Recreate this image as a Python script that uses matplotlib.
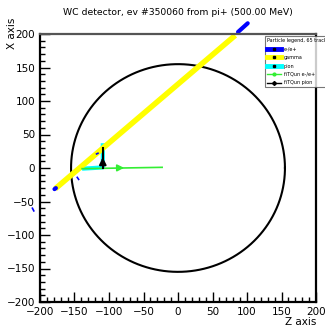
import numpy as np
import matplotlib
matplotlib.use("Agg")
import matplotlib.pyplot as plt
from matplotlib.lines import Line2D
from matplotlib.ticker import MultipleLocator

# detector outline (radius in cm)
radio = 155

# trazas: z (horizontal), x (vertical)
gamma_z = [-178, 83]
gamma_x = [-31, 198]
e_z = [-179, -177]
e_x = [-31.5, -30]
e2_z = [87, 101]
e2_x = [203, 216]
e3_z = [-211, -209]
e3_x = [-60, -64]
e4_z = [-118, -116]
e4_x = [21, 22]
e5_z = [-146, -144]
e5_x = [-14, -17]
pion_z = [-139, -122, -109, -109]
pion_x = [-1, 0, 1, 37]
fq_e_z = [-139, -23]
fq_e_x = [-1, 1]
fq_pi_z = [-109, -109]
fq_pi_x = [0, 30]

fig = plt.figure(figsize=(3.25, 3.26), dpi=100)
ax = fig.add_axes([40/325, 24/326, 276/325, 268/326])

t = np.linspace(0, 2*np.pi, 300)
ax.plot(radio*np.cos(t), radio*np.sin(t), color='black', lw=1.5)

ax.plot(pion_z, pion_x, color='cyan', lw=3, solid_capstyle='butt')
ax.plot(gamma_z, gamma_x, color='yellow', lw=4, solid_capstyle='butt')
ax.plot(e_z, e_x, color='blue', lw=3, solid_capstyle='round')
ax.plot(e2_z, e2_x, color='blue', lw=3, clip_on=False, solid_capstyle='round')
for zz, xx in [(e3_z, e3_x), (e4_z, e4_x), (e5_z, e5_x)]:
    ax.plot(zz, xx, color='blue', lw=1.2, clip_on=False)

ax.plot(fq_e_z, fq_e_x, color='#33ee33', lw=1.2)
ax.annotate('', xy=(-74, 0.3), xytext=(-90, 0.1),
            arrowprops=dict(arrowstyle='-|>', color='#33ee33', lw=1.2, mutation_scale=10))
ax.plot(fq_pi_z, fq_pi_x, color='black', lw=1.5)
ax.annotate('', xy=(-109, 20), xytext=(-109, 6),
            arrowprops=dict(arrowstyle='-|>', color='black', lw=1.5, mutation_scale=10))

ax.set_xlim(-200, 200)
ax.set_ylim(-200, 200)
ax.xaxis.set_major_locator(MultipleLocator(50))
ax.xaxis.set_minor_locator(MultipleLocator(10))
ax.yaxis.set_major_locator(MultipleLocator(50))
ax.yaxis.set_minor_locator(MultipleLocator(10))
ax.tick_params(which='both', direction='in', top=False, right=False, labelsize=7.5, width=1)
ax.tick_params(which='major', length=7)
ax.tick_params(which='minor', length=3.5)
for s in ax.spines.values():
    s.set_linewidth(1.6)
ax.spines['top'].set_color('#555555')

ax.set_title('WC detector, ev #350060 from pi+ (500.00 MeV)', fontsize=6.7, pad=14)
ax.set_xlabel('Z axis', fontsize=7.5, loc='right', labelpad=0)
fig.text(12/325, 1 - 33/326, 'X axis', fontsize=7.5, rotation=90, ha='center', va='center')

handles = [
    Line2D([], [], color='blue', lw=3.5, marker='s', ms=2, mfc='black', mec='black'),
    Line2D([], [], color='yellow', lw=3.5, marker='s', ms=2, mfc='black', mec='black'),
    Line2D([], [], color='cyan', lw=3.5, marker='s', ms=2, mfc='black', mec='black'),
    Line2D([], [], color='#33ee33', lw=1, marker='o', ms=2),
    Line2D([], [], color='black', lw=1, marker='D', ms=2),
]
leg = ax.legend(handles, ['e-/e+', 'gamma', 'pion', 'fiTQun e-/e+', 'fiTQun pion'],
                title='Particle legend, 65 tracks', title_fontsize=3.5, fontsize=3.5,
                loc='upper left', bbox_to_anchor=(223/276, 1.0), frameon=True,
                fancybox=False, edgecolor='#555555', handlelength=2.8,
                borderpad=0.4, labelspacing=0.7, alignment='left', handletextpad=0.6)
leg.get_frame().set_linewidth(0.8)

fig.savefig('out.png', dpi=100)
